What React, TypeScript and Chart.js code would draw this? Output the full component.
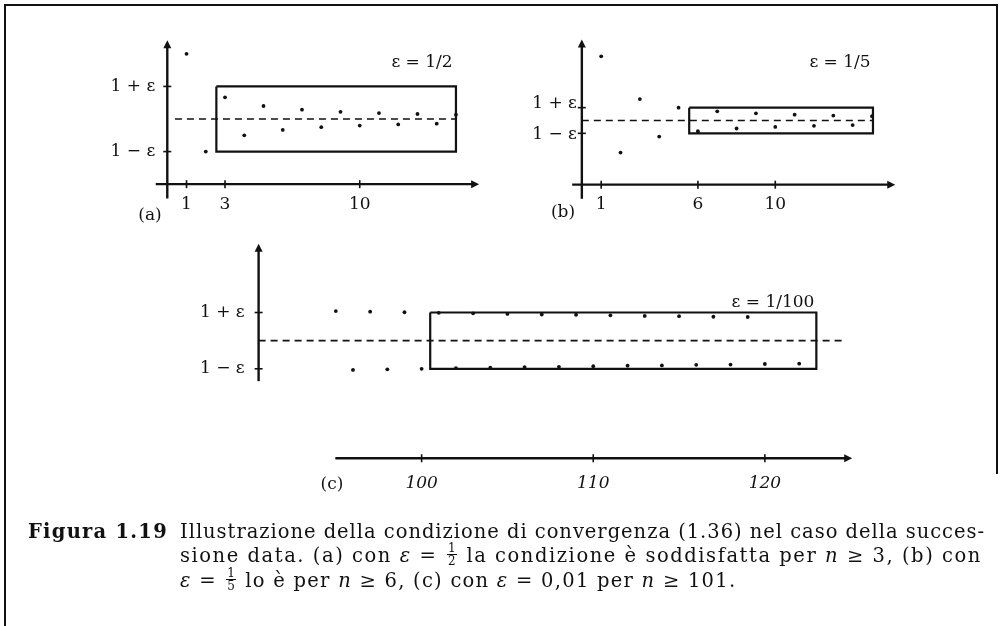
import React, { useEffect, useLayoutEffect, useRef } from "react";
import { Chart, registerables } from "chart.js";

Chart.register(...registerables);

// ---- data ----
const limit = 1;
const epsilons = [0.5, 0.2, 0.01];
const epsLabels = ["ε = 1/2", "ε = 1/5", "ε = 1/100"];
const panelLabels = ["(a)", "(b)", "(c)"];
const yTickLabels = ["1 + ε", "1 − ε"];

const nA = [1, 2, 3, 4, 5, 6, 7, 8, 9, 10, 11, 12, 13, 14, 15];
const valuesA = [2.0, 0.5, 1.333, 0.75, 1.2, 0.833, 1.143, 0.875, 1.111, 0.9, 1.091, 0.917, 1.077, 0.929, 1.067];

const nB = [1, 2, 3, 4, 5, 6, 7, 8, 9, 10, 11, 12, 13, 14, 15];
const valuesB = [2.0, 0.5, 1.333, 0.75, 1.2, 0.833, 1.143, 0.875, 1.111, 0.9, 1.091, 0.917, 1.077, 0.929, 1.067];

const nC = [95, 96, 97, 98, 99, 100, 101, 102, 103, 104, 105, 106, 107, 108, 109, 110, 111, 112, 113, 114, 115, 116, 117, 118, 119, 120, 122];
const valuesC = [
  1.0105, 0.9896, 1.0103, 0.9898, 1.0101, 0.99, 1.0099, 0.9902, 1.0097, 0.9904, 1.0095, 0.9906, 1.0093, 0.9907,
  1.0092, 0.9909, 1.009, 0.9911, 1.0088, 0.9912, 1.0087, 0.9914, 1.0085, 0.9915, 1.0084, 0.9917, 0.9918,
];

const xTicksA = [1, 3, 10];
const xTicksB = [1, 6, 10];
const xTicksC = [100, 110, 120];
const xTickLabelsA = ["1", "3", "10"];
const xTickLabelsB = ["1", "6", "10"];
const xTickLabelsC = ["100", "110", "120"];

// band (rectangle) extent in n, and dashed limit-line extent in n
const bandStartN = [2.55, 5.55, 100.5];
const bandEndN = [15, 15.05, 123];
const dashStartN = [0.4, 0, 90.5];
const dashEndN = [15, 15.05, 124.6];

// ---- layout / styling ----
const W = 1000;
const H = 626;
const ink = "#111";
const labelFont = '17px "DejaVu Serif"';
const labelFontItalic = 'italic 17px "DejaVu Serif"';

const panels = [
  {
    id: "a", ns: nA, vals: valuesA, xTicks: xTicksA, xTickLabels: xTickLabelsA,
    xRef: 0, xRefPx: 164.6, xPpu: 19.4, yRef: 0, yRefPx: 182.5, yPpu: 66,
    yAxisAt: 0, yAxisFrom: -0.22, yAxisTo: 2.18, xAxisAt: 0, xAxisFrom: -0.6, xAxisTo: 16.1,
    yLabelGap: 12, yLabelDy: [0, 0], xLabelDy: 20, tickItalic: false,
    panelLabelPos: [150, 216], epsLabelPos: [422, 63],
  },
  {
    id: "b", ns: nB, vals: valuesB, xTicks: xTicksB, xTickLabels: xTickLabelsB,
    xRef: 0, xRefPx: 582.5, xPpu: 19.5, yRef: 0, yRefPx: 183, yPpu: 65,
    yAxisAt: 0, yAxisFrom: -0.22, yAxisTo: 2.23, xAxisAt: 0, xAxisFrom: -0.5, xAxisTo: 16.1,
    yLabelGap: 5, yLabelDy: [-4, 1], xLabelDy: 20, tickItalic: false,
    panelLabelPos: [563, 213], epsLabelPos: [840, 63],
  },
  {
    id: "c", ns: nC, vals: valuesC, xTicks: xTicksC, xTickLabels: xTickLabelsC,
    xRef: 100, xRefPx: 421, xPpu: 17.3, yRef: 1, yRefPx: 341, yPpu: 2850,
    yAxisAt: 90.5, yAxisFrom: 0.9856, yAxisTo: 1.0337, xAxisAt: 0.9582, xAxisFrom: 94.97, xAxisTo: 124.97,
    yLabelGap: 14, yLabelDy: [0, 0], xLabelDy: 25, tickItalic: true,
    panelLabelPos: [332, 485], epsLabelPos: [773, 303],
  },
];

function scaleRange(ref: number, refPx: number, ppu: number, size: number, inverted: boolean) {
  if (!inverted) {
    const min = ref - refPx / ppu;
    return { min, max: min + size / ppu };
  }
  const max = ref + refPx / ppu;
  return { min: max - size / ppu, max };
}

const figurePlugin = {
  id: "figureAxes",
  afterDatasetsDraw(chart: any) {
    const ctx: CanvasRenderingContext2D = chart.ctx;
    panels.forEach((p, i) => {
      const xs = chart.scales["x" + p.id];
      const ys = chart.scales["y" + p.id];
      const X = (v: number) => xs.getPixelForValue(v);
      const Y = (v: number) => ys.getPixelForValue(v);
      ctx.save();
      ctx.strokeStyle = ink;
      ctx.fillStyle = ink;
      ctx.lineWidth = 2.4;
      ctx.lineCap = "butt";
      // y axis
      const ax = X(p.yAxisAt);
      const yTop = Y(p.yAxisTo);
      ctx.beginPath();
      ctx.moveTo(ax, Y(p.yAxisFrom));
      ctx.lineTo(ax, yTop + 4);
      ctx.stroke();
      ctx.beginPath();
      ctx.moveTo(ax, yTop - 2);
      ctx.lineTo(ax - 4, yTop + 6);
      ctx.lineTo(ax + 4, yTop + 6);
      ctx.closePath();
      ctx.fill();
      // x axis
      const ay = Y(p.xAxisAt);
      const xRight = X(p.xAxisTo);
      ctx.beginPath();
      ctx.moveTo(X(p.xAxisFrom), ay);
      ctx.lineTo(xRight - 4, ay);
      ctx.stroke();
      ctx.beginPath();
      ctx.moveTo(xRight + 2, ay);
      ctx.lineTo(xRight - 6, ay - 4);
      ctx.lineTo(xRight - 6, ay + 4);
      ctx.closePath();
      ctx.fill();
      // x ticks
      ctx.lineWidth = 1.6;
      ctx.font = p.tickItalic ? labelFontItalic : labelFont;
      ctx.textAlign = "center";
      ctx.textBaseline = "middle";
      p.xTicks.forEach((t, k) => {
        const tx = X(t);
        ctx.beginPath();
        ctx.moveTo(tx, ay - 4);
        ctx.lineTo(tx, ay + 4);
        ctx.stroke();
        ctx.fillText(p.xTickLabels[k], tx, ay + p.xLabelDy);
      });
      // y ticks at limit ± eps
      ctx.font = labelFont;
      ctx.textAlign = "right";
      const yVals = [limit + epsilons[i], limit - epsilons[i]];
      yVals.forEach((v, k) => {
        const ty = Y(v);
        ctx.beginPath();
        ctx.moveTo(ax - 4, ty);
        ctx.lineTo(ax + 4, ty);
        ctx.stroke();
        ctx.fillText(yTickLabels[k], ax - p.yLabelGap, ty + p.yLabelDy[k]);
      });
      // panel label and epsilon label
      ctx.textAlign = "center";
      ctx.font = labelFont;
      ctx.fillText(panelLabels[i], p.panelLabelPos[0], p.panelLabelPos[1]);
      ctx.fillText(epsLabels[i], p.epsLabelPos[0], p.epsLabelPos[1]);
      ctx.restore();
    });
  },
};

function Frac({ n, d }: { n: string; d: string }) {
  return (
    <span style={{ display: "inline-flex", flexDirection: "column", alignItems: "center", verticalAlign: "middle", fontSize: 12, lineHeight: "12px", letterSpacing: 0, margin: "0 2px", position: "relative", top: -2 }}>
      <span style={{ borderBottom: "1px solid #111", padding: "0 1px" }}>{n}</span>
      <span>{d}</span>
    </span>
  );
}

export default function App() {
  const canvasRef = useRef<HTMLCanvasElement | null>(null);
  const capRef = useRef<HTMLDivElement | null>(null);

  useEffect(() => {
    const canvas = canvasRef.current;
    if (!canvas) return;
    const scales: any = {};
    const datasets: any[] = [];
    panels.forEach((p, i) => {
      const xr = scaleRange(p.xRef, p.xRefPx, p.xPpu, W, false);
      const yr = scaleRange(p.yRef, p.yRefPx, p.yPpu, H, true);
      scales["x" + p.id] = { type: "linear", display: false, min: xr.min, max: xr.max };
      scales["y" + p.id] = { type: "linear", display: false, min: yr.min, max: yr.max };
      const e = epsilons[i];
      datasets.push({
        label: "band " + p.id,
        xAxisID: "x" + p.id,
        yAxisID: "y" + p.id,
        data: [
          { x: bandStartN[i], y: limit + e },
          { x: bandEndN[i], y: limit + e },
          { x: bandEndN[i], y: limit - e },
          { x: bandStartN[i], y: limit - e },
          { x: bandStartN[i], y: limit + e },
        ],
        showLine: true,
        borderColor: ink,
        borderWidth: 2.2,
        pointRadius: 0,
        fill: false,
        tension: 0,
      });
      datasets.push({
        label: "limit " + p.id,
        xAxisID: "x" + p.id,
        yAxisID: "y" + p.id,
        data: [
          { x: dashStartN[i], y: limit },
          { x: dashEndN[i], y: limit },
        ],
        showLine: true,
        borderColor: ink,
        borderWidth: 1.6,
        borderDash: [7, 5],
        pointRadius: 0,
        fill: false,
      });
      datasets.push({
        label: "a_n " + p.id,
        xAxisID: "x" + p.id,
        yAxisID: "y" + p.id,
        data: p.ns.map((n, k) => ({ x: n, y: p.vals[k] })),
        showLine: false,
        pointRadius: 1.9,
        pointBackgroundColor: ink,
        pointBorderWidth: 0,
      });
    });
    const chart = new Chart(canvas, {
      type: "scatter",
      data: { datasets },
      options: {
        animation: false,
        responsive: false,
        maintainAspectRatio: false,
        devicePixelRatio: 1,
        layout: { padding: 0 },
        plugins: { legend: { display: false }, tooltip: { enabled: false } },
        scales,
        clip: false as any,
      },
      plugins: [figurePlugin],
    });
    return () => chart.destroy();
  }, []);

  useLayoutEffect(() => {
    const root = capRef.current;
    if (!root) return;
    const lines = Array.from(root.querySelectorAll("[data-fit]")) as HTMLElement[];
    const spacings: number[] = [];
    lines.forEach((el) => {
      const target = Number(el.dataset.fit);
      if (!target) return;
      el.style.letterSpacing = "0px";
      const w = el.getBoundingClientRect().width;
      const chars = (el.textContent || "").length;
      if (chars > 0) {
        const ls = (target - w) / chars;
        el.style.letterSpacing = ls + "px";
        if (el.dataset.body) spacings.push(ls);
      }
    });
    const avg = spacings.length ? spacings.reduce((a, b) => a + b, 0) / spacings.length : 0;
    const last = root.querySelector("[data-last]") as HTMLElement | null;
    if (last) last.style.letterSpacing = avg + "px";
  }, []);

  const capFont = '19.5px "DejaVu Serif"';
  const lineStyle: React.CSSProperties = { position: "absolute", left: 180, whiteSpace: "nowrap", display: "inline-block", font: capFont, lineHeight: "24px", color: ink };

  return (
    <div style={{ position: "absolute", left: 0, top: 0, width: W, height: H, background: "#fff", overflow: "hidden" }}>
      <canvas ref={canvasRef} width={W} height={H} style={{ position: "absolute", left: 0, top: 0, width: W, height: H }} />
      {/* page frame */}
      <div style={{ position: "absolute", left: 4, top: 4, width: 994, height: 2, background: ink }} />
      <div style={{ position: "absolute", left: 4, top: 4, width: 2, height: H - 4, background: ink }} />
      <div style={{ position: "absolute", left: 996, top: 4, width: 2, height: 470, background: ink }} />
      <div ref={capRef}>
        <div data-fit="140" style={{ position: "absolute", left: 28, top: 520, display: "inline-block", font: 'bold 19.5px "DejaVu Serif"', lineHeight: "24px", color: ink, whiteSpace: "nowrap" }}>
          Figura 1.19
        </div>
        <div data-fit="805" data-body="1" style={{ ...lineStyle, top: 520 }}>
          Illustrazione della condizione di convergenza (1.36) nel caso della succes-
        </div>
        <div data-fit="805" data-body="1" style={{ ...lineStyle, top: 544 }}>
          sione data. (a) con <i>ε</i> = <Frac n="1" d="2" /> la condizione è soddisfatta per <i>n</i> ≥ 3, (b) con
        </div>
        <div data-last="1" style={{ ...lineStyle, top: 569 }}>
          <i>ε</i> = <Frac n="1" d="5" /> lo è per <i>n</i> ≥ 6, (c) con <i>ε</i> = 0,01 per <i>n</i> ≥ 101.
        </div>
      </div>
    </div>
  );
}
